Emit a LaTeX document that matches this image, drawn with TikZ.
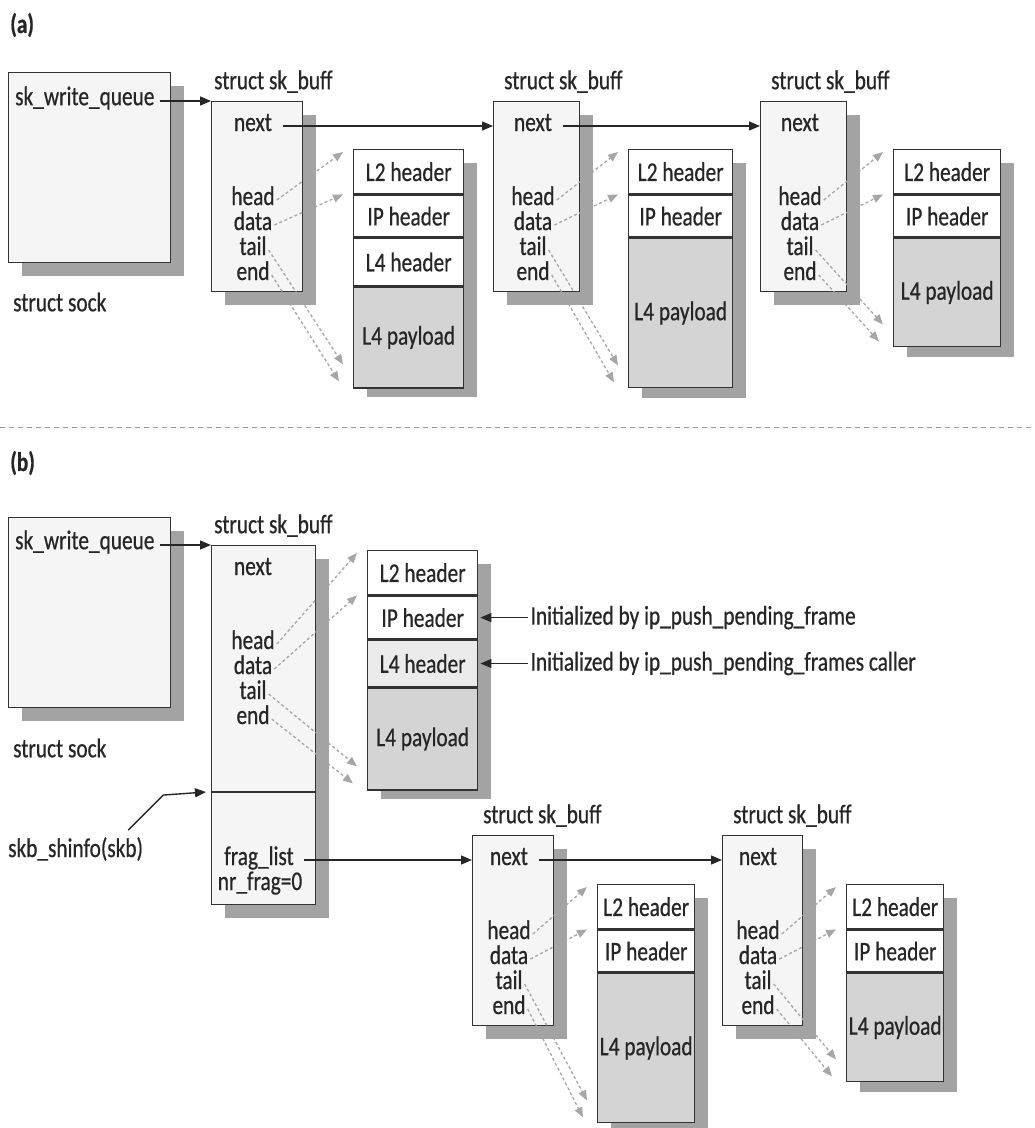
\documentclass[tikz,border=0pt]{standalone}
\usepackage{fontspec}
\setmainfont[FakeStretch=0.79, FakeBold=0.6]{Carlito}
\usetikzlibrary{arrows.meta,shadows,positioning}

\begin{document}
\begin{tikzpicture}[x=1pt, y=-1pt, line join=miter]
  \tikzset{
    txt/.style={font=\fontsize{27}{30}\selectfont, text=black!85, inner sep=2pt},
    field/.style={txt, text height=14pt, text depth=4pt},
    boxshadow/.style={drop shadow={shadow xshift=13pt, shadow yshift=-13pt, fill=black!36, opacity=1}},
    skb/.style={boxshadow, draw=black!80, line width=1.4pt, fill=black!4, inner sep=0pt, anchor=north west},
    blk/.style={boxshadow, draw=black!80, line width=1.4pt, fill=white, inner sep=0pt, anchor=north west},
    row/.style={txt, draw=black!80, line width=1.4pt, fill=white, inner sep=0pt, anchor=north west},
    link/.style={line width=1.4pt, draw=black!85, -{Triangle[length=11pt, width=9pt]}},
    ptr/.style={line width=1.3pt, draw=black!35, dash pattern=on 3pt off 2.5pt,
      -{Triangle[length=10pt, width=8pt, fill=black!35]}}
  }
  \fill[white] (0,0) rectangle (1035,1128);
  \useasboundingbox (0,0) rectangle (1035,1128);

  % (a) write queue of separate buffers
  \node[txt, font=\bfseries\fontsize{27}{30}\selectfont, anchor=west] (capA) at (8,25) {(a)};
  \node[skb, minimum width=162pt, minimum height=190pt] (sockA) at (8,72) {};
  \node[txt, anchor=west] (swqA) at (13,98) {sk\_write\_queue};
  \node[txt, anchor=west] (sockAlbl) at (11,302) {struct sock};

  % separator
  \draw[black!40, line width=1pt, dash pattern=on 5pt off 4pt] (0,427) -- (1035,427);

  % (b) one buffer with a frag_list
  \node[txt, font=\bfseries\fontsize{27}{30}\selectfont, anchor=west] (capB) at (8,463) {(b)};
  \node[skb, minimum width=162pt, minimum height=190pt] (sockB) at (8,517) {};
  \node[txt, anchor=west] (swqB) at (13,542) {sk\_write\_queue};
  \node[txt, anchor=west] (sockBlbl) at (11,748) {struct sock};

  % sk_buff boxes
  \foreach \n/\x/\y/\w/\h/\f/\s in {a1/211/101/91/190/253/1, a2/493/101/86/190/533/9,
      a3/760/101/86/190/800/9, b1/211/545/104/359/253/1, b2/472/835/81/190/509/9,
      b3/722/835/80/190/758/9} {
    \node[skb, minimum width=\w pt, minimum height=\h pt] (\n) at (\x,\y) {};
    \node[txt, anchor=south west] (\n-lbl) at ([xshift=\s pt, yshift=6pt]\n.north west) {struct sk\_buff};
    \foreach \fld/\dy in {next/25, head/99, data/124, tail/149, end/174}
      \node[field] (\n-\fld) at (\f, \y+\dy) {\fld};
  }

  % shared info part of the first buffer
  \coordinate (shinfoB) at (211,792);
  \draw[draw=black!80, line width=1.4pt] (shinfoB) -- (315,792);
  \node[field] (frag) at (259,860) {frag\_list};
  \node[field] (nrfrag) at (260,885) {nr\_frag=0};
  \node[txt, anchor=west] (shinfo) at (6,849) {skb\_shinfo(skb)};

  % data areas with four parts
  \node[blk, minimum width=110pt, minimum height=234pt] (a1-blk) at (353,149) {};
  \node[row, minimum width=110pt, minimum height=44pt] (a1-l2) at (353,149) {L2 header};
  \node[row, minimum width=110pt, minimum height=42pt] (a1-ip) at (a1-l2.south west) {IP header};
  \node[row, minimum width=110pt, minimum height=47pt] (a1-l4) at (a1-ip.south west) {L4 header};
  \node[row, minimum width=110pt, minimum height=101pt, fill=black!17] (a1-pay) at (a1-l4.south west) {L4 payload};

  \node[blk, minimum width=110pt, minimum height=235pt] (b1-blk) at (367,550) {};
  \node[row, minimum width=110pt, minimum height=44pt] (b1-l2) at (367,550) {L2 header};
  \node[row, minimum width=110pt, minimum height=43pt] (b1-ip) at (b1-l2.south west) {IP header};
  \node[row, minimum width=110pt, minimum height=46pt, fill=black!8] (b1-l4) at (b1-ip.south west) {L4 header};
  \node[row, minimum width=110pt, minimum height=102pt, fill=black!17] (b1-pay) at (b1-l4.south west) {L4 payload};

  % data areas with three parts
  \foreach \n/\x/\y/\w/\p in {a2/628/149/104/149, a3/893/149/107/108, b2/597/884/97/149, b3/846/884/97/108} {
    \node[blk, minimum width=\w pt, minimum height=86pt+\p pt] (\n-blk) at (\x,\y) {};
    \node[row, minimum width=\w pt, minimum height=44pt] (\n-l2) at (\x,\y) {L2 header};
    \node[row, minimum width=\w pt, minimum height=42pt] (\n-ip) at (\n-l2.south west) {IP header};
    \node[row, minimum width=\w pt, minimum height=\p pt, fill=black!17] (\n-pay) at (\n-ip.south west) {L4 payload};
  }

  % notes
  \node[txt, anchor=west] (initIP) at ([xshift=50pt]b1-ip.east) {Initialized by ip\_push\_pending\_frame};
  \node[txt, anchor=west] (initL4) at ([xshift=50pt]b1-l4.east) {Initialized by ip\_push\_pending\_frames caller};
  \draw[link] (initIP.west) -- ([xshift=2pt]b1-ip.east);
  \draw[link] (initL4.west) -- ([xshift=2pt]b1-l4.east);

  % list links
  \draw[link, shorten <=3pt] (swqA.east |- a1.north west) -- (a1.north west);
  \draw[link, shorten <=3pt] (swqB.east |- b1.north west) -- (b1.north west);
  \draw[link, shorten <=9pt] (a1-next.east) -- (a1-next.east -| a2.west);
  \draw[link, shorten <=9pt] (a2-next.east) -- (a2-next.east -| a3.west);
  \draw[link, shorten <=8pt] (frag.east) -- (frag.east -| b2.west);
  \draw[link, shorten <=9pt] (b2-next.east) -- (b2-next.east -| b3.west);
  \draw[link] ([xshift=-17pt, yshift=5pt]shinfo.north east) -- ++(35,-35) -- ([xshift=-5pt]shinfoB);

  % pointers into the data areas
  \foreach \n in {a1, a2, a3, b1, b2, b3} {
    \draw[ptr] (\n-head.east) -- ([xshift=-10pt, yshift=-3pt]\n-blk.north west);
    \draw[ptr] (\n-data.east) -- ([xshift=-10pt]\n-l2.south west);
    \draw[ptr] (\n-tail.east) -- ([xshift=-10pt, yshift=20pt]\n-blk.south west);
    \draw[ptr] (\n-end.east) -- ([xshift=-14pt, yshift=3pt]\n-blk.south west);
  }
\end{tikzpicture}
\end{document}
